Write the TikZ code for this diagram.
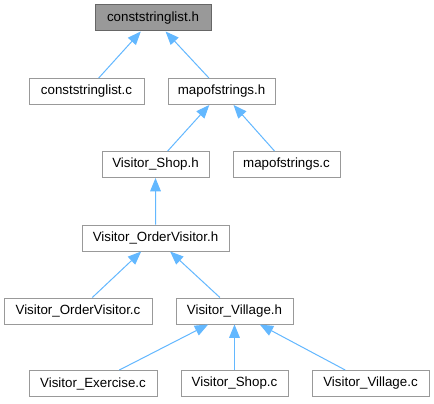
\documentclass[tikz,border=0pt]{standalone}
\usepackage{fontspec}
\setmainfont{Liberation Sans}
\usetikzlibrary{arrows.meta}
\definecolor{incblue}{RGB}{99,184,255}
\definecolor{rootfill}{RGB}{153,153,153}
\definecolor{rootline}{RGB}{102,102,102}
\definecolor{boxline}{RGB}{153,153,153}

\begin{document}
\begin{tikzpicture}[x=0.75pt, y=-0.75pt, font=\fontsize{10}{12}\selectfont,
  >={Triangle[length=10pt, width=8pt]},
  fl/.style={draw=boxline, fill=white, line width=0.75pt, inner sep=0pt,
    minimum height=19.5pt, minimum width=#1},
  fl/.default=80.25pt,
  inc/.style={->, incblue, line width=0.75pt}]
\fill[white] (0,0) rectangle (434,403);
\useasboundingbox (0,0) rectangle (434,403);
% root header
\node[fl=87pt, fill=rootfill, draw=rootline] (csh) at (153,18) {conststringlist.h};
\node[fl=86.25pt] (csc) at (86.5,91.5) {conststringlist.c};
\node[fl] (mosh) at (221.5,91.5) {mapofstrings.h};
\node[fl] (shoph) at (155.5,164.5) {Visitor\_Shop.h};
\node[fl] (mosc) at (286.5,164.5) {mapofstrings.c};
\node[fl=110.25pt] (ordh) at (155.5,238) {Visitor\_OrderVisitor.h};
\node[fl=111pt] (ordc) at (78,311) {Visitor\_OrderVisitor.c};
\node[fl=87.75pt] (vilh) at (234.5,311) {Visitor\_Village.h};
\node[fl=96pt] (exc) at (93,383.5) {Visitor\_Exercise.c};
\node[fl] (shopc) at (234.5,383.5) {Visitor\_Shop.c};
\node[fl=87.75pt] (vilc) at (370.5,383.5) {Visitor\_Village.c};
% includes, arrow at the included file
\draw[inc] (csc) -- (csh);
\draw[inc] (mosh) -- (csh);
\draw[inc] (shoph) -- (mosh);
\draw[inc] (mosc) -- (mosh);
\draw[inc] ([xshift=0.05pt]ordh.north) -- (shoph.south);
\draw[inc] (ordc) -- (ordh);
\draw[inc] (vilh) -- (ordh);
\draw[inc] (exc) -- (vilh);
\draw[inc] (shopc) -- (vilh);
\draw[inc] (vilc) -- (vilh);
\end{tikzpicture}
\end{document}
